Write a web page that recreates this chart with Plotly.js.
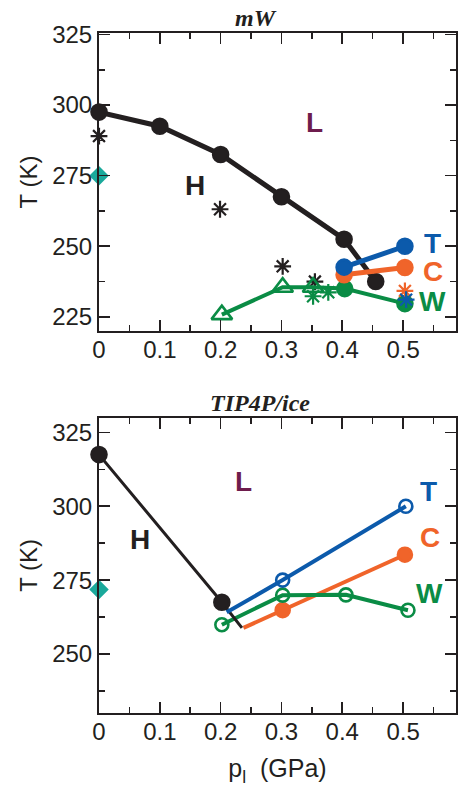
<!DOCTYPE html>
<html>
<head>
<meta charset="utf-8">
<script src="https://cdn.plot.ly/plotly-3.0.1.min.js"></script>
<style>html,body{margin:0;padding:0;background:#fff;}#chart{width:458px;height:787px;}</style>
</head>
<body>
<div id="chart"></div>
<script>
// ---------- mW panel data ----------
const mW_HL_p = [0, 0.1, 0.2, 0.3, 0.403, 0.455];
const mW_HL_T = [297.5, 292.5, 282.5, 267.5, 252.5, 237.5];
const mW_T_p = [0.403, 0.503];
const mW_T_T = [242.6, 250];
const mW_C_p = [0.403, 0.503];
const mW_C_T = [239.9, 242.5];
const mW_W_p = [0.202, 0.302, 0.352, 0.404, 0.503];
const mW_W_T = [225.8, 235.5, 235.5, 235, 229.7];
const mW_W_kind = ['open', 'open', 'open', 'filled', 'filled'];
const mW_starBlack_p = [0, 0.199, 0.302, 0.355];
const mW_starBlack_T = [289, 263.1, 242.9, 237.5];
const mW_starGreen_p = [0.352, 0.377];
const mW_starGreen_T = [232.3, 233.7];
const mW_starOrange_p = [0.503];
const mW_starOrange_T = [234.2];
const mW_starBlue_p = [0.505];
const mW_starBlue_T = [231.1];
const mW_exp_p = [0];
const mW_exp_T = [275];

// ---------- TIP4P/ice panel data ----------
const tip_HL_p = [0, 0.202, 0.235];
const tip_HL_T = [317.5, 267.5, 258.8];
const tip_T_p = [0.21, 0.302, 0.5045];
const tip_T_T = [264.1, 275, 300];
const tip_C_p = [0.2375, 0.302, 0.503];
const tip_C_T = [258.8, 264.8, 283.6];
const tip_W_p = [0.202, 0.302, 0.406, 0.508];
const tip_W_T = [259.9, 269.9, 270, 264.8];
const tip_exp_p = [0];
const tip_exp_T = [271.8];

const xTickVals = [0, 0.1, 0.2, 0.3, 0.4, 0.5];
const xTickText = ['0', '0.1', '0.2', '0.3', '0.4', '0.5'];
const xMinorVals = [0.05, 0.15, 0.25, 0.35, 0.45, 0.55];
const yTickVals = [225, 250, 275, 300, 325];
const yTickText = ['225', '250', '275', '300', '325'];
const yMinorVals = [237.5, 262.5, 287.5, 312.5];

// ---------- styles ----------
const BLACK = '#231f20', BLUE = '#0c5aab', ORANGE = '#f0642a', GREEN = '#0a8c45', TEAL = '#1aa99b', PURPLE = '#6e1c4d';
const SANS = 'Liberation Sans, Arial, sans-serif';

function star(p, T, color, ax) {
  return {x: p, y: T, xaxis: ax[0], yaxis: ax[1], mode: 'markers', type: 'scatter', cliponaxis: false,
    marker: {symbol: 'asterisk-open', size: 14, color: color, opacity: 1, line: {color: color, width: 2.2}}, showlegend: false, hoverinfo: 'skip'};
}
function line(p, T, color, width, symbols, sizes, ax) {
  return {x: p, y: T, xaxis: ax[0], yaxis: ax[1], mode: 'lines+markers', type: 'scatter', cliponaxis: false,
    line: {color: color, width: width},
    marker: {symbol: symbols, size: sizes, color: color, opacity: 1, line: {color: color, width: 2.6}},
    showlegend: false, hoverinfo: 'skip'};
}
const A1 = ['x', 'y'], A2 = ['x2', 'y2'];

const traces = [
  // top
  star(mW_starBlack_p, mW_starBlack_T, BLACK, A1),
  line(mW_W_p, mW_W_T, GREEN, 4,
       mW_W_kind.map(k => k === 'open' ? 'triangle-up-open' : 'circle'),
       mW_W_kind.map(k => k === 'open' ? 18 : 15), A1),
  line(mW_HL_p, mW_HL_T, BLACK, 5, 'circle', 15, A1),
  line(mW_C_p, mW_C_T, ORANGE, 5, 'circle', 15, A1),
  line(mW_T_p, mW_T_T, BLUE, 5, 'circle', 15, A1),
  star(mW_starGreen_p, mW_starGreen_T, GREEN, A1),
  star(mW_starOrange_p, mW_starOrange_T, ORANGE, A1),
  star(mW_starBlue_p, mW_starBlue_T, BLUE, A1),
  {x: mW_exp_p, y: mW_exp_T, xaxis: 'x', yaxis: 'y', mode: 'markers', type: 'scatter', cliponaxis: false,
   marker: {symbol: 'diamond', size: 15, color: TEAL, opacity: 1}, showlegend: false, hoverinfo: 'skip'},
  // bottom
  line(tip_C_p, tip_C_T, ORANGE, 4, 'circle', tip_C_p.map((_, i) => i === 0 ? 0 : 14), A2),
  line(tip_W_p, tip_W_T, GREEN, 4, 'circle-open', 13, A2),
  line(tip_HL_p, tip_HL_T, BLACK, 3, 'circle', tip_HL_p.map((_, i) => i === tip_HL_p.length - 1 ? 0 : 15), A2),
  line(tip_T_p, tip_T_T, BLUE, 4, 'circle-open', tip_T_p.map((_, i) => i === 0 ? 0 : 13), A2),
  {x: tip_exp_p, y: tip_exp_T, xaxis: 'x2', yaxis: 'y2', mode: 'markers', type: 'scatter', cliponaxis: false,
   marker: {symbol: 'diamond', size: 15, color: TEAL, opacity: 1}, showlegend: false, hoverinfo: 'skip'}
];

const tickFont = {family: SANS, size: 24, color: BLACK};
function xaxis(anchor) {
  return {anchor: anchor, range: [0, 0.587], tickmode: 'array', tickvals: xTickVals, ticktext: xTickText,
    ticks: 'inside', ticklen: 11, tickwidth: 1.6, tickcolor: BLACK, showline: true, linecolor: BLACK, linewidth: 2,
    mirror: 'allticks', showgrid: false, zeroline: false, tickfont: tickFont, ticklabelstandoff: -4,
    minor: {tickmode: 'array', tickvals: xMinorVals, ticks: 'inside', ticklen: 6, tickwidth: 1.6, tickcolor: BLACK, showgrid: false}};
}
function yaxis(anchor, range, domain) {
  return {anchor: anchor, range: range, domain: domain, tickmode: 'array', tickvals: yTickVals, ticktext: yTickText,
    ticks: 'inside', ticklen: 11, tickwidth: 1.6, tickcolor: BLACK, showline: true, linecolor: BLACK, linewidth: 2,
    mirror: 'allticks', showgrid: false, zeroline: false, tickfont: tickFont,
    title: {text: 'T (K)', font: {family: SANS, size: 24, color: BLACK}, standoff: 8},
    minor: {tickmode: 'array', tickvals: yMinorVals, ticks: 'inside', ticklen: 6, tickwidth: 1.6, tickcolor: BLACK, showgrid: false}};
}

function letter(text, x, y, color, ax) {
  return {text: '<b>' + text + '</b>', x: x, y: y, xref: ax[0], yref: ax[1], showarrow: false,
    font: {family: SANS, size: 28, color: color}};
}
const titleFont = {family: 'Liberation Serif, Times New Roman, serif', size: 24, color: BLACK};

const layout = {
  width: 458, height: 787,
  margin: {l: 99, r: 2, t: 33, b: 74},
  paper_bgcolor: '#fff', plot_bgcolor: '#fff',
  showlegend: false,
  xaxis: xaxis('y'),
  yaxis: yaxis('x', [220, 325.5], [0.5618, 1]),
  xaxis2: Object.assign(xaxis('y2'), {title: {text: 'p<sub>l</sub>  (GPa)', font: {family: SANS, size: 25, color: BLACK}, standoff: 16}}),
  yaxis2: yaxis('x2', [230, 330], [0, 0.4343]),
  annotations: [
    {text: '<b><i>mW</i></b>', xref: 'paper', yref: 'paper', x: 0.441, y: 1.0, yanchor: 'bottom', showarrow: false, font: titleFont},
    {text: '<b><i>TIP4P/ice</i></b>', xref: 'paper', yref: 'paper', x: 0.452, y: 0.4343, yanchor: 'bottom', showarrow: false, font: titleFont},
    letter('L', 0.355, 293.8, PURPLE, A1),
    letter('H', 0.158, 271.4, BLACK, A1),
    letter('T', 0.549, 251, BLUE, A1),
    letter('C', 0.549, 241, ORANGE, A1),
    letter('W', 0.548, 230.4, GREEN, A1),
    letter('L', 0.237, 308.4, PURPLE, A2),
    letter('H', 0.067, 288.7, BLACK, A2),
    letter('T', 0.541, 305, BLUE, A2),
    letter('C', 0.544, 289.3, ORANGE, A2),
    letter('W', 0.544, 270.4, GREEN, A2)
  ]
};

Plotly.newPlot('chart', traces, layout, {staticPlot: true, displayModeBar: false});
</script>
</body>
</html>
